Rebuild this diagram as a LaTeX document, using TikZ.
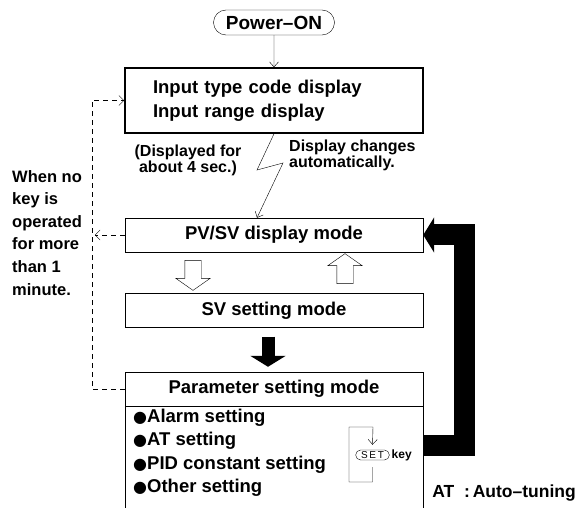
\documentclass[tikz,border=0pt]{standalone}
\usepackage{fontspec}
\setmainfont{Liberation Sans}
\newfontfamily\dotfont{DejaVu Sans}
\usetikzlibrary{positioning,arrows.meta,shapes.arrows,shapes.misc}

\newcommand{\blob}{{\dotfont\fontsize{16}{16}\selectfont ●}}

\tikzset{
  mode/.style={draw,minimum width=298pt,minimum height=34pt,inner sep=0pt,
    font=\bfseries\fontsize{18.5}{24}\selectfont},
  note/.style={inner sep=0pt,font=\bfseries\fontsize{16}{16}\selectfont},
  hollow/.style={draw,single arrow,inner sep=8pt,minimum height=30pt,
    single arrow head extend=9pt,single arrow tip angle=110},
  blockarrow/.style={line width=13pt,-{Triangle[length=11pt,width=35pt]}},
  dashline/.style={dash pattern=on 5pt off 4pt,-{Straight Barb[length=5pt,width=10pt]}},
  thinarrow/.style={-{Straight Barb[length=5pt,width=9pt]}}
}

\begin{document}
\begin{tikzpicture}[x=1pt,y=-1pt]
\clip (0,0) rectangle (579,508);
\node[draw,rounded rectangle,minimum width=121pt,minimum height=25pt,inner sep=0pt,
  font=\bfseries\fontsize{19}{20}\selectfont] (power) at (274,22.5) {Power--ON};
\node[mode,line width=1.6pt,minimum height=65pt,align=left,text width=242pt,
  inner xsep=28pt] (input) at (274,100.5) {Input type code display\\Input range display};
\node[mode] (pv) at (274,235) {PV/SV display mode};
\node[mode] (sv) at (274,310.5) {SV setting mode};
\node[mode] (param) at (274,389) {Parameter setting mode};
\node[draw,minimum width=298pt,minimum height=120pt,anchor=north] (list) at (param.south) {};
\node[mode,draw=none,minimum width=0pt,align=left,anchor=north west,
  font=\bfseries\fontsize{18.5}{23.3}\selectfont] (items) at (133,409)
  {\blob Alarm setting\\\blob AT setting\\\blob PID constant setting\\\blob Other setting};

% hollow arrows between the two modes
\node[hollow,shape border rotate=270] (down) at (193,272.5) {};
\node[hollow,shape border rotate=90] (up) at (345,271.5) {};

% SET key loop
\node[draw,rounded rectangle,inner xsep=4pt,inner ysep=1.5pt,
  font=\fontsize{10}{10}\selectfont] (setkey) at (372.5,455) {S\,E\,T};
\node[right=2pt of setkey,inner sep=0pt,font=\bfseries\fontsize{12}{12}\selectfont] (key) {key};
\draw[thinarrow] ([yshift=-7pt]setkey.south) |- (349,482) |- (373,427) -- ([yshift=5pt]setkey.north);

\coordinate (setout) at (423,445.5);

\draw[thinarrow] (power) -- (input);
\draw[thinarrow] (input.south) -- (257,170) -- (283,163) -- ([xshift=-17pt]pv.north);
\draw[blockarrow,shorten <=9pt,shorten >=5pt] ([xshift=-6pt]sv.south) -- ([xshift=-6pt]param.north);
\draw[blockarrow,line width=21pt] (setout) -- ++(41,0) |- (pv.east);
\draw[dashline] (param.west) -- ++(-33,0) |- (input.west);
\draw[dashline] (pv.west) -- ++(-30,0);

% notes
\node[note,align=center] (shown) at (188,160) {(Displayed for\\about 4 sec.)};
\node[note,align=left,anchor=west] (auto) at (289,155) {Display changes\\automatically.};
\node[note,align=left,anchor=north west,font=\bfseries\fontsize{16.5}{22.6}\selectfont]
  (idle) at (12,170) {When no\\key is\\operated\\for more\\than 1\\minute.};
\node[note,anchor=east,font=\bfseries\fontsize{17.5}{20}\selectfont] (atnote) at (576,493)
  {AT\ \ :\,Auto--tuning};
\end{tikzpicture}
\end{document}
